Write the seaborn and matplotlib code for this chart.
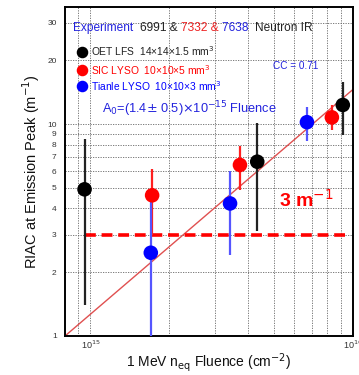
import matplotlib
matplotlib.use("Agg")
import matplotlib.pyplot as plt
import seaborn as sns
import numpy as np
import pandas as pd
from matplotlib.ticker import FixedLocator, FixedFormatter, NullLocator

# ---- data ----
samples = ["OET LFS", "SIC LYSO", "Tianle LYSO"]
oet_fluence = [9.5e14, 4.33e15, 9.18e15]
oet_riac = [4.92, 6.64, 12.3]
oet_lo = [1.40, 3.13, 8.87]
oet_hi = [8.47, 10.1, 15.8]

sic_fluence = [1.72e15, 3.72e15, 8.34e15]
sic_riac = [4.61, 6.41, 10.75]
sic_lo = [3.0, 4.88, 9.37]
sic_hi = [6.11, 7.87, 12.3]

tianle_fluence = [1.70e15, 3.41e15, 6.7e15]
tianle_riac = [2.47, 4.22, 10.2]
tianle_lo = [0.5, 2.41, 8.34]
tianle_hi = [4.3, 6.03, 12.0]

fit_fluence = [8.0e14, 1.0e16]
fit_riac = [1.0, 14.5]

threshold_fluence = [9.5e14, 9.46e15]
threshold_riac = [3.0, 3.0]

y_ticks = [1, 2, 3, 4, 5, 6, 7, 8, 9, 10, 20, 30]
x_grid = [9e14, 1e15, 2e15, 3e15, 4e15, 5e15, 6e15, 7e15, 8e15, 9e15, 1e16]

colors = {"OET LFS": "#000000", "SIC LYSO": "#ff0000", "Tianle LYSO": "#0000ff"}
bar_colors = {"OET LFS": "#222222", "SIC LYSO": "#ff2020", "Tianle LYSO": "#5555ff"}

df = pd.DataFrame({
    "fluence": oet_fluence + sic_fluence + tianle_fluence,
    "riac": oet_riac + sic_riac + tianle_riac,
    "lo": oet_lo + sic_lo + tianle_lo,
    "hi": oet_hi + sic_hi + tianle_hi,
    "sample": ["OET LFS"] * 3 + ["SIC LYSO"] * 3 + ["Tianle LYSO"] * 3,
})

sns.set_theme(style="white")
plt.rcParams["font.family"] = ["Liberation Sans", "DejaVu Sans"]

fig = plt.figure(figsize=(3.59, 3.75), dpi=100)
ax = fig.add_axes([0.181, 0.104, 0.801, 0.877])
ax.set_xscale("log")
ax.set_yscale("log")
ax.set_xlim(8.0e14, 1.0e16)
ax.set_ylim(1.0, 35.6)

# grid
for gx in x_grid:
    ax.axvline(gx, color="#666666", lw=0.6, ls=(0, (1.5, 1.5)), zorder=0)
for gy in y_ticks:
    ax.axhline(gy, color="#666666", lw=0.6, ls=(0, (1.5, 1.5)), zorder=0)

# fit line
sns.lineplot(x=fit_fluence, y=fit_riac, ax=ax, color="#e05050", lw=1.0, zorder=2)
# threshold
sns.lineplot(x=threshold_fluence, y=threshold_riac, ax=ax, color="#ff0000", lw=2.6,
             zorder=3)
ax.lines[-1].set_linestyle((0, (3, 1.6)))

# error bars
for s in samples:
    d = df[df["sample"] == s]
    ax.errorbar(d["fluence"], d["riac"],
                yerr=[d["riac"] - d["lo"], d["hi"] - d["riac"]],
                fmt="none", ecolor=bar_colors[s], elinewidth=1.6, capsize=0, zorder=4)

sns.scatterplot(data=df, x="fluence", y="riac", hue="sample", palette=colors,
                s=110, edgecolor="none", legend=False, ax=ax, zorder=5)

# ticks
ax.yaxis.set_major_locator(FixedLocator(y_ticks))
ax.yaxis.set_major_formatter(FixedFormatter([str(v) for v in y_ticks]))
ax.yaxis.set_minor_locator(NullLocator())
ax.xaxis.set_major_locator(FixedLocator([1e15, 1e16]))
ax.xaxis.set_major_formatter(FixedFormatter([r"10$^{15}$", r"10$^{16}$"]))
ax.xaxis.set_minor_locator(NullLocator())
ax.tick_params(axis="y", labelsize=6, length=0, pad=6, colors="#333333")
ax.tick_params(axis="x", labelsize=6.5, length=0, pad=2, colors="#333333")
for s in ax.spines.values():
    s.set_color("black")
    s.set_linewidth(1.4)

ax.set_xlabel(r"1 MeV n$_{\rm eq}$ Fluence (cm$^{-2}$)", fontsize=10, labelpad=0, color="#111111")
ax.set_ylabel(r"RIAC at Emission Peak (m$^{-1}$)", fontsize=10.5, labelpad=4, color="#111111")

# annotations
tf = ax.transAxes
fig.canvas.draw()
renderer = fig.canvas.get_renderer()


def chain(parts, x0, y0, fs):
    x = x0
    inv = ax.transAxes.inverted()
    for txt, col in parts:
        t = ax.text(x, y0, txt, color=col, fontsize=fs, transform=tf, va="center")
        bb = t.get_window_extent(renderer)
        x = inv.transform((bb.x1, bb.y0))[0]


chain([("Experiment  ", "#2222dd"), ("6991 & ", "#222222"), ("7332 & ", "#ee2222"),
       ("7638  ", "#2222dd"), ("Neutron IR", "#222222")], 0.028, 0.937, 8.6)

leg_y = [0.865, 0.81, 0.76]
leg_txt = ["OET LFS  14×14×1.5 mm$^3$", "SIC LYSO  10×10×5 mm$^3$", "Tianle LYSO  10×10×3 mm$^3$"]
for yy, s, t in zip(leg_y, samples, leg_txt):
    ax.plot([0.058], [yy], "o", color=colors[s], ms=7.3, transform=tf, clip_on=False)
    ax.text(0.09, yy, t, color=colors[s] if s != "OET LFS" else "#222222",
            fontsize=7.4, transform=tf, va="center")

ax.text(0.725, 0.82, "CC = 0.71", color="#2222dd", fontsize=7.2, transform=tf, va="center")
ax.text(0.13, 0.69, r"A$_0$=(1.4$\pm$ 0.5)$\times$10$^{-15}$ Fluence", color="#2222dd",
        fontsize=9.2, transform=tf, va="center")
ax.text(0.745, 0.415, r"3 m$^{-1}$", color="#ff0000", fontsize=14, fontweight="bold",
        transform=tf, va="center")

fig.savefig("out.png", dpi=100)
